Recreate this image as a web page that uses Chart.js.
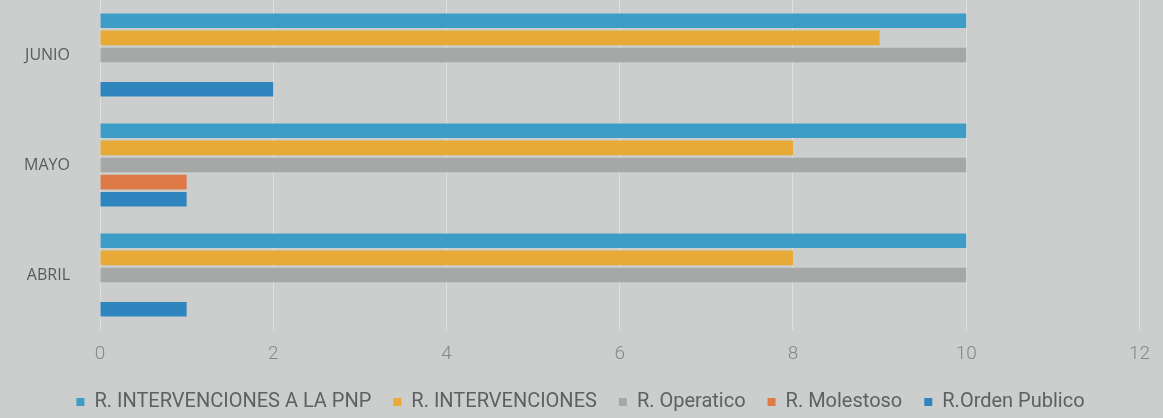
<!DOCTYPE html>
<html>
<head>
<meta charset="utf-8">
<script src="https://cdn.jsdelivr.net/npm/chart.js@4/dist/chart.umd.min.js"></script>
<style>
  html, body { margin: 0; padding: 0; background: #cbcecc; }
  #wrap { width: 1163px; height: 418px; }
</style>
</head>
<body>
<div id="wrap"><canvas id="grafico"></canvas></div>
<script>
// Datos
const meses = ["JUNIO", "MAYO", "ABRIL"];
const intervencionesPNP = [10, 10, 10];
const intervenciones = [9, 8, 8];
const operatico = [10, 10, 10];
const molestoso = [0, 1, 0];
const ordenPublico = [2, 1, 1];
const ticksX = [0, 2, 4, 6, 8, 10, 12];

const ctx = document.getElementById("grafico").getContext("2d");

new Chart(ctx, {
    type: 'bar',
    data: {
        labels: meses,
        datasets: [
            { label: 'R. INTERVENCIONES A LA PNP', data: intervencionesPNP, backgroundColor: '#3e9dc7' },
            { label: 'R. INTERVENCIONES', data: intervenciones, backgroundColor: '#e8aa36' },
            { label: 'R. Operatico', data: operatico, backgroundColor: '#a6a8a7' },
            { label: 'R. Molestoso', data: molestoso, backgroundColor: '#de7a47' },
            { label: 'R.Orden Publico', data: ordenPublico, backgroundColor: '#2f85bd' }
        ]
    },
    options: {
        indexAxis: 'y',
        responsive: true,
        maintainAspectRatio: false,
        animation: false,
        categoryPercentage: 0.78,
        barPercentage: 0.85,
        layout: { padding: { top: 0, right: 18, bottom: 4, left: 16 } },
        scales: {
            x: {
                min: 0,
                max: 12,
                afterBuildTicks: function(axis) {
                    axis.ticks = ticksX.map(v => ({ value: v }));
                },
                afterFit: function(axis) { axis.height = 40; },
                grid: { color: 'rgba(235,238,236,0.55)', drawTicks: false },
                border: { display: false },
                ticks: {
                    color: '#85888a',
                    padding: 13,
                    font: { family: 'Roboto', size: 19, weight: '300' }
                }
            },
            y: {
                grid: { display: false },
                border: { display: false },
                afterFit: function(axis) {
                    axis.width = 84;
                    axis.paddingTop = 0;
                    axis.paddingBottom = 0;
                },
                ticks: {
                    color: '#585b5a',
                    padding: 22,
                    font: { family: 'Open Sans', size: 16 }
                }
            }
        },
        plugins: {
            legend: {
                position: 'bottom',
                maxHeight: 44,
                labels: {
                    boxWidth: 8,
                    boxHeight: 8,
                    padding: 22,
                    color: '#5e6160',
                    font: { family: 'Roboto', size: 20 }
                }
            },
            tooltip: { enabled: false }
        }
    }
});
</script>
</body>
</html>
